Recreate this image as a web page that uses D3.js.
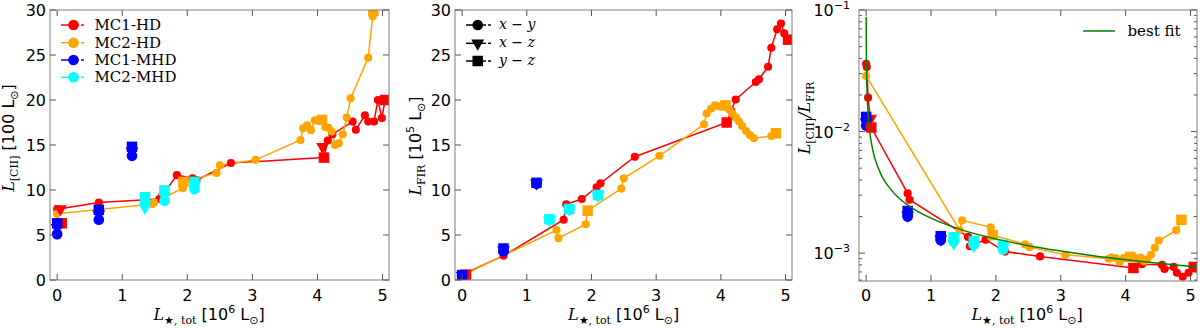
<!DOCTYPE html>
<html>
<head>
<meta charset="utf-8">
<script src="https://cdn.jsdelivr.net/npm/d3@7"></script>
<style>
  body { margin: 0; background: #fff; }
  text { fill: #000; }
</style>
</head>
<body>
<div id="chart"></div>
<script>
// ---- data: [L_star (1e6 Lsun), value, projection marker] ----
// marker: 'o' = x-y, 'v' = x-z, 's' = y-z

// MC1-HD (red): time series connected by a line, plus extra projections
const mc1hdCii = [[0.0,7.85,'o'],[0.64,8.6,'o'],[1.57,9.0,'o'],[1.61,9.3,'o'],[1.84,11.65,'o'],[2.08,11.3,'o'],[2.14,11.1,'o'],[2.67,13.0,'o'],[4.1,13.6,'s'],[4.16,15.5,'o'],[4.23,16.2,'o'],[4.54,17.6,'o'],[4.59,16.7,'o'],[4.73,18.3,'o'],[4.78,17.6,'o'],[4.87,17.6,'o'],[4.93,20.0,'o'],[4.99,18.0,'o'],[5.04,20.0,'s']];
const mc1hdCiiExtra = [[0.05,7.9,'v'],[0.07,6.3,'s'],[4.08,14.8,'v']];
const mc1hdFir = [[0.0,0.6,'o'],[0.64,2.7,'o'],[1.57,6.7,'o'],[1.61,8.4,'o'],[1.85,9.0,'o'],[2.08,10.3,'o'],[2.14,10.75,'o'],[2.67,13.7,'o'],[4.09,17.5,'s'],[4.16,18.8,'o'],[4.23,20.05,'o'],[4.54,22.0,'o'],[4.59,22.3,'o'],[4.73,23.7,'o'],[4.78,25.8,'o'],[4.87,27.85,'o'],[4.93,28.5,'o'],[4.98,27.4,'o'],[5.04,26.7,'s']];
const mc1hdFirExtra = [[0.06,0.6,'s']];
const mc1hdRatio = [[0.0,0.036,'o'],[0.01,0.034,'o'],[0.03,0.019,'o'],[0.08,0.0108,'s'],[0.64,0.0031,'o'],[0.67,0.00275,'o'],[1.57,0.00136,'o'],[1.6,0.00114,'o'],[1.84,0.00129,'o'],[2.14,0.00103,'o'],[2.68,0.00094,'o'],[4.12,0.000755,'s'],[4.25,0.00081,'o'],[4.56,0.0008,'o'],[4.6,0.00074,'o'],[4.74,0.00077,'o'],[4.79,0.00069,'o'],[4.88,0.00064,'o'],[4.97,0.00069,'o'],[5.05,0.00077,'s']];
const mc1hdRatioExtra = [[0.07,0.0128,'v']];

// MC2-HD (orange)
const mc2hdCii = [[0.0,7.35,'o'],[1.46,8.45,'o'],[1.49,8.6,'o'],[1.93,10.2,'o'],[1.94,10.9,'s'],[2.45,11.9,'o'],[2.5,12.75,'o'],[3.05,13.35,'o'],[3.74,15.55,'o'],[3.78,16.85,'o'],[3.84,17.2,'o'],[3.9,16.65,'o'],[3.96,17.75,'o'],[4.07,17.8,'s'],[4.12,17.0,'o'],[4.17,16.9,'o'],[4.22,16.5,'o'],[4.27,15.0,'o'],[4.33,15.2,'o'],[4.39,16.2,'o'],[4.45,18.05,'o'],[4.51,20.2,'o'],[4.78,24.7,'o'],[4.85,29.3,'o'],[4.86,29.9,'s']];
const mc2hdFir = [[0.0,0.5,'o'],[1.46,5.55,'o'],[1.49,4.65,'o'],[1.91,6.2,'o'],[1.94,7.7,'s'],[2.46,10.15,'o'],[2.5,11.3,'o'],[3.05,13.8,'o'],[3.74,17.3,'o'],[3.78,18.5,'o'],[3.85,19.05,'o'],[3.91,19.4,'o'],[3.97,19.3,'o'],[4.07,19.4,'s'],[4.13,18.95,'o'],[4.18,18.5,'o'],[4.23,18.05,'o'],[4.28,17.6,'o'],[4.33,17.1,'o'],[4.39,16.55,'o'],[4.45,16.1,'o'],[4.51,15.75,'o'],[4.78,16.0,'o'],[4.85,16.3,'s']];
const mc2hdRatio = [[0.0,0.0287,'o'],[1.44,0.00155,'o'],[1.48,0.00186,'o'],[1.92,0.00163,'o'],[1.95,0.00141,'s'],[2.45,0.00118,'o'],[2.52,0.00112,'o'],[3.07,0.00097,'o'],[3.74,0.0009,'o'],[3.78,0.00092,'o'],[3.85,0.00091,'o'],[3.91,0.00085,'o'],[3.97,0.00091,'o'],[4.07,0.00093,'s'],[4.13,0.00092,'o'],[4.18,0.0009,'o'],[4.23,0.00092,'o'],[4.28,0.00086,'o'],[4.33,0.00089,'o'],[4.39,0.00097,'o'],[4.45,0.00111,'o'],[4.51,0.00127,'o'],[4.78,0.00154,'o'],[4.86,0.00188,'s']];

// MC1-MHD (blue): three snapshots, all projections
const mc1mhdCii = [[0,5.1,'o'],[0,5.8,'v'],[0,6.3,'s'],[0.64,6.7,'o'],[0.64,7.3,'v'],[0.64,7.8,'s'],[1.15,13.8,'o'],[1.15,14.3,'v'],[1.15,14.8,'s']];
const mc1mhdFir = [[0,0.45,'o'],[0,0.5,'v'],[0,0.55,'s'],[0.64,3.2,'o'],[0.64,3.35,'v'],[0.64,3.5,'s'],[1.15,10.7,'o'],[1.15,10.75,'v'],[1.15,10.8,'s']];
const mc1mhdRatio = [[0,0.0112,'o'],[0,0.012,'v'],[0,0.0132,'s'],[0.64,0.0020,'o'],[0.64,0.00205,'v'],[0.64,0.00222,'s'],[1.15,0.00128,'o'],[1.15,0.0013,'v'],[1.15,0.00138,'s']];

// MC2-MHD (cyan)
const mc2mhdCii = [[1.35,8.7,'o'],[1.35,8.05,'v'],[1.35,9.2,'s'],[1.65,8.8,'o'],[1.65,9.3,'v'],[1.65,9.95,'s'],[2.11,10.1,'o'],[2.11,10.5,'v'],[2.11,10.9,'s']];
const mc2mhdFir = [[1.35,6.7,'o'],[1.35,6.7,'v'],[1.35,6.75,'s'],[1.655,7.85,'o'],[1.655,7.85,'v'],[1.655,7.9,'s'],[2.1,9.4,'o'],[2.1,9.4,'v'],[2.1,9.45,'s']];
const mc2mhdRatio = [[1.35,0.00125,'o'],[1.35,0.00121,'v'],[1.35,0.00135,'s'],[1.66,0.00118,'o'],[1.66,0.00115,'v'],[1.66,0.00125,'s'],[2.11,0.00107,'o'],[2.11,0.00112,'v'],[2.11,0.00117,'s']];

// best fit curve
const bestFit = [[0.0012,0.0877],[0.003,0.0522],[0.006,0.0352],[0.012,0.0238],[0.025,0.0157],[0.05,0.0106],[0.1,0.00715],[0.2,0.00482],[0.4,0.00325],[0.7,0.00237],[1.0,0.00194],[1.5,0.00154],[2.0,0.00131],[2.5,0.00115],[3.0,0.00104],[3.5,0.000952],[4.0,0.000883],[4.5,0.000826],[5.1,0.000769]];

const simNames = ['MC1-HD', 'MC2-HD', 'MC1-MHD', 'MC2-MHD'];
const simColors = ['#ff0000', '#ffa500', '#0000ff', '#00ffff'];
const projNames = [['x','y'], ['x','z'], ['y','z']];
const projShapes = ['o', 'v', 's'];

const xTicks = [0, 1, 2, 3, 4, 5];
const linTicks = [0, 5, 10, 15, 20, 25, 30];
const logTicks = [1e-3, 1e-2, 1e-1];

// ---- layout ----
const W = 1200, H = 328;
const svg = d3.select('#chart').append('svg')
  .attr('width', W).attr('height', H)
  .style('font-family', '"DejaVu Sans", sans-serif');

const SERIF = '"DejaVu Serif", serif';
const SANS = '"DejaVu Sans", sans-serif';
const FRAME = '#7f7f7f';
const TICK = '#555';

function marker(sel, shape, color, big) {
  let sym, size;
  if (shape === 'o') { sym = d3.symbolCircle; size = big ? 90 : 52; }
  else if (shape === 's') { sym = d3.symbolSquare; size = 110; }
  else { sym = d3.symbolTriangle; size = 72; }
  return sel.append('path')
    .attr('d', d3.symbol(sym, size)())
    .attr('fill', color);
}

function placeMarker(g, d, x, y, color, big) {
  const m = marker(g, d[2], color, big);
  const rot = d[2] === 'v' ? ' rotate(180)' : '';
  m.attr('transform', `translate(${x(d[0])},${y(d[1])})${rot}`);
}

// draws a mathtext-like label built from parts [text, family, size, dy, italic]
function richText(g, parts, attrs) {
  const t = g.append('text');
  Object.entries(attrs).forEach(([k, v]) => t.attr(k, v));
  parts.forEach(p => {
    t.append('tspan')
      .attr('font-family', p[1])
      .attr('font-size', p[2])
      .attr('dy', p[3] || 0)
      .attr('font-style', p[4] ? 'italic' : 'normal')
      .text(p[0]);
  });
  return t;
}

const xLabelParts = [['L', SERIF, 16, 0, true], ['\u2605, tot', SERIF, 11, 4],
  [' [10', SANS, 16, -4], ['6', SANS, 11, -7], [' L', SANS, 16, 7], ['\u2299', SANS, 11, 4], [']', SANS, 16, -4]];

const panels = [
  { x0: 50, x1: 389, y0: 10, y1: 280, log: false,
    series: [[mc1hdCii, mc1hdCiiExtra], [mc2hdCii, []], [null, mc1mhdCii], [null, mc2mhdCii]],
    xLabelX: 209, yLabelX: 14, yLabelY: 138,
    yLabel: [['L', SERIF, 16, 0, true], ['[CII]', SERIF, 11, 4], [' [100', SANS, 16, -4], [' L', SANS, 16, 0], ['\u2299', SANS, 11, 4], [']', SANS, 16, -4]] },
  { x0: 455, x1: 792, y0: 10, y1: 280, log: false,
    series: [[mc1hdFir, mc1hdFirExtra], [mc2hdFir, []], [null, mc1mhdFir], [null, mc2mhdFir]],
    xLabelX: 623.5, yLabelX: 421, yLabelY: 146,
    yLabel: [['L', SERIF, 16, 0, true], ['FIR', SERIF, 11, 4], [' [10', SANS, 16, -4], ['5', SANS, 11, -7], [' L', SANS, 16, 7], ['\u2299', SANS, 11, 4], [']', SANS, 16, -4]] },
  { x0: 859, x1: 1197, y0: 10, y1: 281, log: true,
    series: [[mc1hdRatio, mc1hdRatioExtra], [mc2hdRatio, []], [null, mc1mhdRatio], [null, mc2mhdRatio]],
    xLabelX: 1027, yLabelX: 810, yLabelY: 118,
    yLabel: [['L', SERIF, 16, 0, true], ['[CII]', SERIF, 11, 4], ['/', SERIF, 16, -4, true], ['L', SERIF, 16, 0, true], ['FIR', SERIF, 11, 4]] }
];

panels.forEach((p, pi) => {
  const g = svg.append('g');
  const x = d3.scaleLinear().domain([-0.11, 5.1]).range([p.x0, p.x1]);
  const y = p.log
    ? d3.scaleLog().domain([5.9e-4, 0.1]).range([p.y1, p.y0])
    : d3.scaleLinear().domain([0, 30]).range([p.y1, p.y0]);

  const clipId = 'clip' + pi;
  svg.append('clipPath').attr('id', clipId)
    .append('rect').attr('x', p.x0).attr('y', p.y0)
    .attr('width', p.x1 - p.x0).attr('height', p.y1 - p.y0);

  const plot = g.append('g').attr('clip-path', `url(#${clipId})`);
  const line = d3.line().x(d => x(d[0])).y(d => y(d[1]));

  // lines of the HD time series
  p.series.forEach((s, si) => {
    if (!s[0]) return;
    plot.append('path').datum(s[0])
      .attr('d', line).attr('fill', 'none')
      .attr('stroke', simColors[si]).attr('stroke-width', 1.5);
  });
  // markers: circles, then triangles, then squares
  projShapes.forEach(shape => {
    p.series.forEach((s, si) => {
      (s[0] || []).filter(d => d[2] === shape)
        .forEach(d => placeMarker(plot, d, x, y, simColors[si], false));
      (s[1] || []).filter(d => d[2] === shape)
        .forEach(d => placeMarker(plot, d, x, y, simColors[si], true));
    });
  });

  if (p.log) {
    plot.append('path').datum(bestFit)
      .attr('d', line.curve(d3.curveMonotoneX))
      .attr('fill', 'none').attr('stroke', '#008000').attr('stroke-width', 1.5);
  }

  // frame
  g.append('rect').attr('x', p.x0).attr('y', p.y0)
    .attr('width', p.x1 - p.x0).attr('height', p.y1 - p.y0)
    .attr('fill', 'none').attr('stroke', FRAME).attr('stroke-width', 1);

  // ticks (inward, all four sides)
  const tickG = g.append('g').attr('stroke', TICK).attr('stroke-width', 1);
  xTicks.forEach(t => {
    tickG.append('line').attr('x1', x(t)).attr('x2', x(t)).attr('y1', p.y1).attr('y2', p.y1 - 6);
    tickG.append('line').attr('x1', x(t)).attr('x2', x(t)).attr('y1', p.y0).attr('y2', p.y0 + 6);
    g.append('text').attr('x', x(t)).attr('y', 301)
      .attr('text-anchor', 'middle').attr('font-size', 16).attr('font-family', SANS)
      .text(t);
  });
  const yt = p.log ? logTicks : linTicks;
  yt.forEach(t => {
    tickG.append('line').attr('x1', p.x0).attr('x2', p.x0 + 6).attr('y1', y(t)).attr('y2', y(t));
    tickG.append('line').attr('x1', p.x1).attr('x2', p.x1 - 6).attr('y1', y(t)).attr('y2', y(t));
    if (p.log) {
      const e = Math.round(Math.log10(t));
      richText(g, [['10', SANS, 16, 0], ['\u2212' + Math.abs(e), SANS, 11, -7]],
        { x: p.x0 - 9, y: y(t) + 6, 'text-anchor': 'end' });
    } else {
      g.append('text').attr('x', p.x0 - 4).attr('y', y(t) + 6)
        .attr('text-anchor', 'end').attr('font-size', 16).attr('font-family', SANS)
        .text(t);
    }
  });
  if (p.log) {
    y.ticks().filter(t => Math.abs(Math.log10(t) - Math.round(Math.log10(t))) > 1e-6)
      .forEach(t => {
        tickG.append('line').attr('x1', p.x0).attr('x2', p.x0 + 3).attr('y1', y(t)).attr('y2', y(t));
        tickG.append('line').attr('x1', p.x1).attr('x2', p.x1 - 3).attr('y1', y(t)).attr('y2', y(t));
      });
  }

  // axis labels
  richText(g, xLabelParts, { x: p.xLabelX, y: 320, 'text-anchor': 'middle' });
  richText(g, p.yLabel, { 'text-anchor': 'middle',
    transform: `translate(${p.yLabelX},${p.yLabelY}) rotate(-90)` });
});

// ---- legends ----
const leg1 = svg.append('g');
simNames.forEach((name, i) => {
  const ly = [25, 42.7, 60, 77.3][i];
  leg1.append('line').attr('x1', 61).attr('x2', 79).attr('y1', ly).attr('y2', ly)
    .attr('stroke', simColors[i]).attr('stroke-width', 1.5);
  leg1.append('line').attr('x1', 81).attr('x2', 84).attr('y1', ly).attr('y2', ly)
    .attr('stroke', simColors[i]).attr('stroke-width', 1.5);
  leg1.append('circle').attr('cx', 73.5).attr('cy', ly).attr('r', 5.3).attr('fill', simColors[i]);
  leg1.append('text').attr('x', 94.5).attr('y', ly + 5)
    .attr('font-family', SERIF).attr('font-size', 15).text(name);
});

const leg2 = svg.append('g');
projShapes.forEach((shape, i) => {
  const ly = [25, 43.3, 61][i];
  leg2.append('line').attr('x1', 466).attr('x2', 486).attr('y1', ly).attr('y2', ly)
    .attr('stroke', '#000').attr('stroke-width', 1.5);
  leg2.append('line').attr('x1', 488).attr('x2', 491).attr('y1', ly).attr('y2', ly)
    .attr('stroke', '#000').attr('stroke-width', 1.5);
  const m = marker(leg2, shape, '#000', true);
  m.attr('transform', `translate(477.7,${ly})${shape === 'v' ? ' rotate(180)' : ''}`);
  richText(leg2, [[projNames[i][0], SERIF, 14, 0, true], [' \u2212 ', SERIF, 14, 0], [projNames[i][1], SERIF, 14, 0, true]],
    { x: 499, y: ly + 4 });
});

const leg3 = svg.append('g');
leg3.append('line').attr('x1', 1083).attr('x2', 1115).attr('y1', 31).attr('y2', 31)
  .attr('stroke', '#008000').attr('stroke-width', 1.5);
leg3.append('text').attr('x', 1127.5).attr('y', 36)
  .attr('font-family', SERIF).attr('font-size', 15).text('best fit');
</script>
</body>
</html>
